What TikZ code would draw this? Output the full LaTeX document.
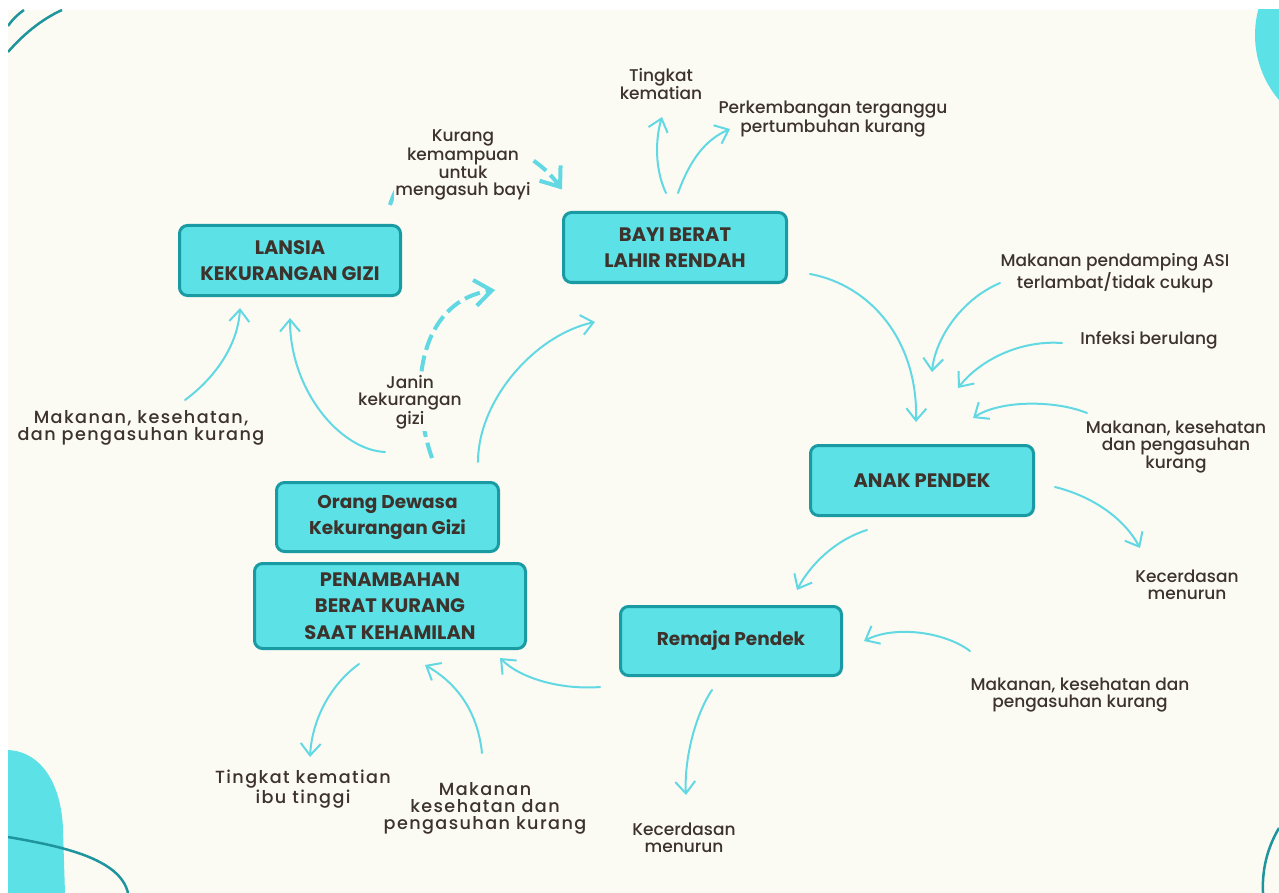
\documentclass[tikz,border=0pt]{standalone}
\usepackage{fontspec}
\setmainfont{Poppins}
\newfontfamily\notefont{Poppins Medium}
\newfontfamily\widefont[LetterSpace=8]{Poppins Medium}
\usetikzlibrary{arrows.meta}
\definecolor{paper}{HTML}{FBFBF4}
\definecolor{boxfill}{HTML}{5CE1E6}
\definecolor{boxedge}{HTML}{1A9AA2}
\definecolor{flow}{HTML}{62D8E3}
\definecolor{ink}{HTML}{3D322C}
\definecolor{deco}{HTML}{1E959C}
\begin{document}
\begin{tikzpicture}[x=1pt,y=-1pt,
  stage/.style={draw=boxedge, line width=3pt, fill=boxfill, rounded corners=8pt,
    text=ink, font=\fontsize{19.5}{26.5}\selectfont\bfseries, align=center, inner sep=0pt},
  smallstage/.style={stage, font=\fontsize{18.5}{26}\selectfont\bfseries},
  note/.style={text=ink, font=\fontsize{17}{17}\selectfont\notefont, align=center, inner sep=1pt},
  widenote/.style={text=ink, font=\fontsize{17.6}{17}\selectfont\widefont, align=center, inner sep=1pt},
  flowline/.style={draw=flow, line width=2pt, line cap=round,
    -{Straight Barb[length=12pt,width=20pt,line width=2pt]}},
  boldflow/.style={draw=flow, line width=4pt, dash pattern=on 16pt off 6pt,
    -{Straight Barb[length=17pt,width=26pt,line width=4pt]}},
]
% page and paper
\fill[white] (0,0) rectangle (1279,893);
\fill[paper] (8,10) rectangle (1279,893);
\useasboundingbox (0,0) rectangle (1279,893);

% corner ornaments
\begin{scope}
  \clip (8,10) rectangle (1279,893);
  \fill[boxfill] (1355,35) circle[radius=100];
  \fill[boxfill] (8,750) .. controls (45,752) and (62,790) .. (63,830) -- (65,893) -- (8,893) -- cycle;
  \draw[deco, line width=2.5pt] (8,837) .. controls (60,846) and (120,858) .. (128,893);
  \draw[deco, line width=2.5pt] (1279,828) .. controls (1266,850) and (1262,872) .. (1263,893);
  \draw[deco, line width=2.5pt] (8,52) .. controls (22,36) and (40,20) .. (62,10);
  \draw[deco, line width=2.5pt] (8,26) .. controls (12,20) and (17,15) .. (24,10);
\end{scope}

% stages of the cycle
\node[stage, minimum width=221pt, minimum height=70pt] (lansia) at (290,260.5) {LANSIA\\KEKURANGAN GIZI};
\node[stage, minimum width=223pt, minimum height=70pt] (bayi) at (675,247.5) {BAYI BERAT\\LAHIR RENDAH};
\node[stage, minimum width=223pt, minimum height=70pt] (anak) at (922,480.5) {ANAK PENDEK};
\node[smallstage, minimum width=222pt, minimum height=69pt] (dewasa) at (387.5,517) {Orang Dewasa\\Kekurangan Gizi};
\node[stage, minimum width=271pt, minimum height=85pt] (tambah) at (390,606) {PENAMBAHAN\\BERAT KURANG\\SAAT KEHAMILAN};
\node[smallstage, minimum width=221pt, minimum height=69pt] (remaja) at (731,641) {Remaja Pendek};

% causes and consequences
\node[note] (tk) at (661,84) {Tingkat\\kematian};
\node[note] (kembang) at (833,119) {Perkembangan terganggu\\pertumbuhan kurang};
\node[note] (mpasi) at (1115,273) {Makanan pendamping ASI\\terlambat/tidak cukup};
\node[note] (infeksi) at (1149,340) {Infeksi berulang};
\node[note] (mkka) at (1176,447) {Makanan, kesehatan\\dan pengasuhan\\kurang};
\node[note] (cerdasa) at (1187,585) {Kecerdasan\\menurun};
\node[note] (mkkb) at (1080,695) {Makanan, kesehatan dan\\pengasuhan kurang};
\node[note] (cerdasb) at (684,838) {Kecerdasan\\menurun};
\node[widenote] (mkkc) at (485,808) {Makanan\\kesehatan dan\\pengasuhan kurang};
\node[widenote] (ibu) at (303,789) {Tingkat kematian\\ibu tinggi};
\node[widenote] (mkkd) at (141,428) {Makanan, kesehatan,\\dan pengasuhan kurang};

% dashed links, their labels drawn on top
\draw[boldflow] ([shift={(100,-55.5)}]lansia.center) .. controls (415,125) and (515,125) .. ([shift={(-113,-58)}]bayi.center);
\draw[boldflow] ([shift={(44.5,-59)}]dewasa.center) .. controls (405,380) and (425,300) .. ([shift={(-180,42.5)}]bayi.center);
\node[note, fill=paper, inner sep=1pt] (asuh) at (463,165) {Kurang\\kemampuan\\untuk\\mengasuh bayi};
\node[note, fill=paper, inner sep=2pt] (janin) at (410,402) {Janin\\kekurangan\\gizi};

% solid links
\draw[flowline] ([shift={(90.5,-55)}]dewasa.center) .. controls (478,400) and (535,335) .. ([shift={(-80,74.5)}]bayi.center);
\draw[flowline] ([shift={(-2.5,-65)}]dewasa.center) .. controls (340,450) and (290,390) .. ([shift={(0,57.5)}]lansia.center);
\draw[flowline] ([shift={(44,-28)}]mkkd.center) .. controls (215,378) and (238,345) .. ([shift={(-50,47.5)}]lansia.center);
\draw[flowline] ([shift={(-9,-54.5)}]bayi.center) .. controls (655,170) and (655,140) .. ([shift={(1,33)}]tk.center);
\draw[flowline] ([shift={(3,-54.5)}]bayi.center) .. controls (690,160) and (705,140) .. ([shift={(-103,10)}]kembang.center);
\draw[flowline] ([shift={(135,26.5)}]bayi.center) .. controls (870,285) and (918,340) .. ([shift={(-6,-58.5)}]anak.center);
\draw[flowline] ([shift={(-115,10)}]mpasi.center) .. controls (960,300) and (935,340) .. ([shift={(10,-108.5)}]anak.center);
\draw[flowline] ([shift={(-87,3)}]infeksi.center) .. controls (1020,340) and (980,360) .. ([shift={(36,-92.5)}]anak.center);
\draw[flowline] ([shift={(-89,-34)}]mkka.center) .. controls (1055,400) and (1000,400) .. ([shift={(51,-62.5)}]anak.center);
\draw[flowline] ([shift={(133,6.5)}]anak.center) .. controls (1095,497) and (1125,520) .. ([shift={(-47,-37)}]cerdasa.center);
\draw[flowline] ([shift={(-55,49.5)}]anak.center) .. controls (835,540) and (810,565) .. ([shift={(66,-51)}]remaja.center);
\draw[flowline] ([shift={(-110,-44)}]mkkb.center) .. controls (945,632) and (895,625) .. ([shift={(133,0)}]remaja.center);
\draw[flowline] ([shift={(-19,49)}]remaja.center) .. controls (695,715) and (684,760) .. ([shift={(2,-43)}]cerdasb.center);
\draw[flowline] ([shift={(-131,46)}]remaja.center) .. controls (560,690) and (520,678) .. ([shift={(110,52)}]tambah.center);
\draw[flowline] ([shift={(-3,-55)}]mkkc.center) .. controls (478,715) and (460,685) .. ([shift={(35,59)}]tambah.center);
\draw[flowline] ([shift={(-31,58)}]tambah.center) .. controls (330,685) and (312,720) .. ([shift={(7,-32)}]ibu.center);
\end{tikzpicture}
\end{document}
